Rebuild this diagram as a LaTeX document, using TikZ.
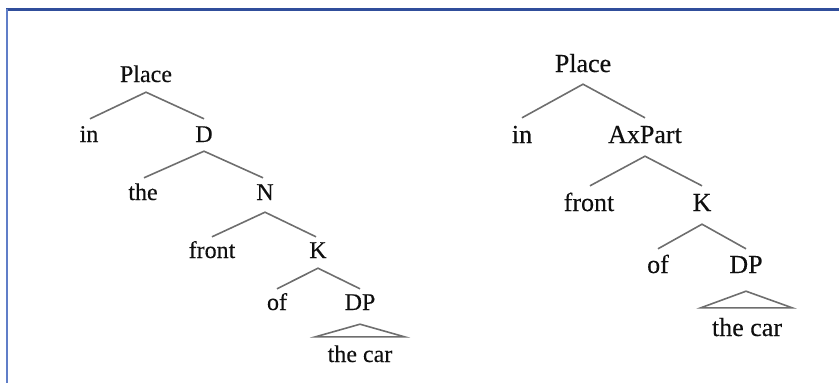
\documentclass[tikz,border=0pt]{standalone}
\usepackage{fontspec}
\setmainfont{Liberation Serif}
\newfontfamily\treefont{Liberation Serif}[FakeBold=0.3]
\definecolor{frametop}{RGB}{48,78,155}
\definecolor{frameleft}{RGB}{96,126,200}
\definecolor{branchgray}{RGB}{110,110,110}
\definecolor{labelink}{RGB}{15,15,15}
\tikzset{
  lbl/.style={inner sep=0pt, anchor=base, text=labelink, text depth=0pt},
  smalltree/.style={lbl, font=\treefont\fontsize{24}{28}\selectfont, text height=17pt},
  bigtree/.style={lbl, font=\treefont\fontsize{26}{30}\selectfont, text height=18pt},
  branch/.style={draw=branchgray, line width=1.6pt, line join=miter}
}
\begin{document}
\begin{tikzpicture}[x=1pt,y=-1pt]
  \useasboundingbox (0,0) rectangle (839,383);
  % frame (top and left edges)
  \draw[frametop, line width=2.2pt] (6,9.5) -- (839,9.5);
  \draw[frameleft, line width=2.6pt] (7,8.5) -- (7,383);

  % ---- left tree ----
  \node[smalltree] (lplace) at (146,82)  {Place};
  \node[smalltree] (lin)    at (89,142)  {in};
  \node[smalltree] (ld)     at (204,142) {D};
  \node[smalltree] (lthe)   at (143,200) {the};
  \node[smalltree] (ln)     at (265,200) {N};
  \node[smalltree] (lfront) at (212,258) {front};
  \node[smalltree] (lk)     at (318,258) {K};
  \node[smalltree] (lof)    at (277,310) {of};
  \node[smalltree] (ldp)    at (360,310) {DP};
  \node[smalltree] (lcar)   at (360,362) {the car};

  \draw[branch] ([xshift=1pt,yshift=6pt]lin.north) -- ([yshift=-10pt]lplace.south) -- ([yshift=6pt]ld.north);
  \draw[branch] ([xshift=1pt,yshift=5pt]lthe.north) -- ([yshift=-9pt]ld.south) -- ([xshift=-2pt,yshift=5pt]ln.north);
  \draw[branch] ([yshift=4pt]lfront.north) -- ([yshift=-12pt]ln.south) -- ([xshift=-2pt,yshift=4pt]lk.north);
  \draw[branch] ([yshift=4pt]lof.north) -- ([yshift=-10pt]lk.south) -- ([yshift=4pt]ldp.north);
  \draw[branch] ([yshift=-14pt]ldp.south) -- ([xshift=12pt,yshift=8pt]lcar.north east)
               -- ([xshift=-12pt,yshift=8pt]lcar.north west) -- cycle;

  % ---- right tree ----
  \node[bigtree] (rplace)  at (583,72)  {Place};
  \node[bigtree] (rin)     at (522,143) {in};
  \node[bigtree] (raxpart) at (645,143) {AxPart};
  \node[bigtree] (rfront)  at (589,211) {front};
  \node[bigtree] (rk)      at (702,211) {K};
  \node[bigtree] (rof)     at (658,273) {of};
  \node[bigtree] (rdp)     at (746,273) {DP};
  \node[bigtree] (rcar)    at (747,336) {the car};

  \draw[branch] ([yshift=7pt]rin.north) -- ([yshift=-12pt]rplace.south) -- ([yshift=7pt]raxpart.north);
  \draw[branch] ([xshift=1pt,yshift=7pt]rfront.north) -- ([yshift=-13pt]raxpart.south) -- ([yshift=7pt]rk.north);
  \draw[branch] ([yshift=6pt]rof.north) -- ([yshift=-13pt]rk.south) -- ([yshift=6pt]rdp.north);
  \draw[branch] ([yshift=-18pt]rdp.south) -- ([xshift=10pt,yshift=10pt]rcar.north east)
               -- ([xshift=-11pt,yshift=10pt]rcar.north west) -- cycle;
\end{tikzpicture}
\end{document}
